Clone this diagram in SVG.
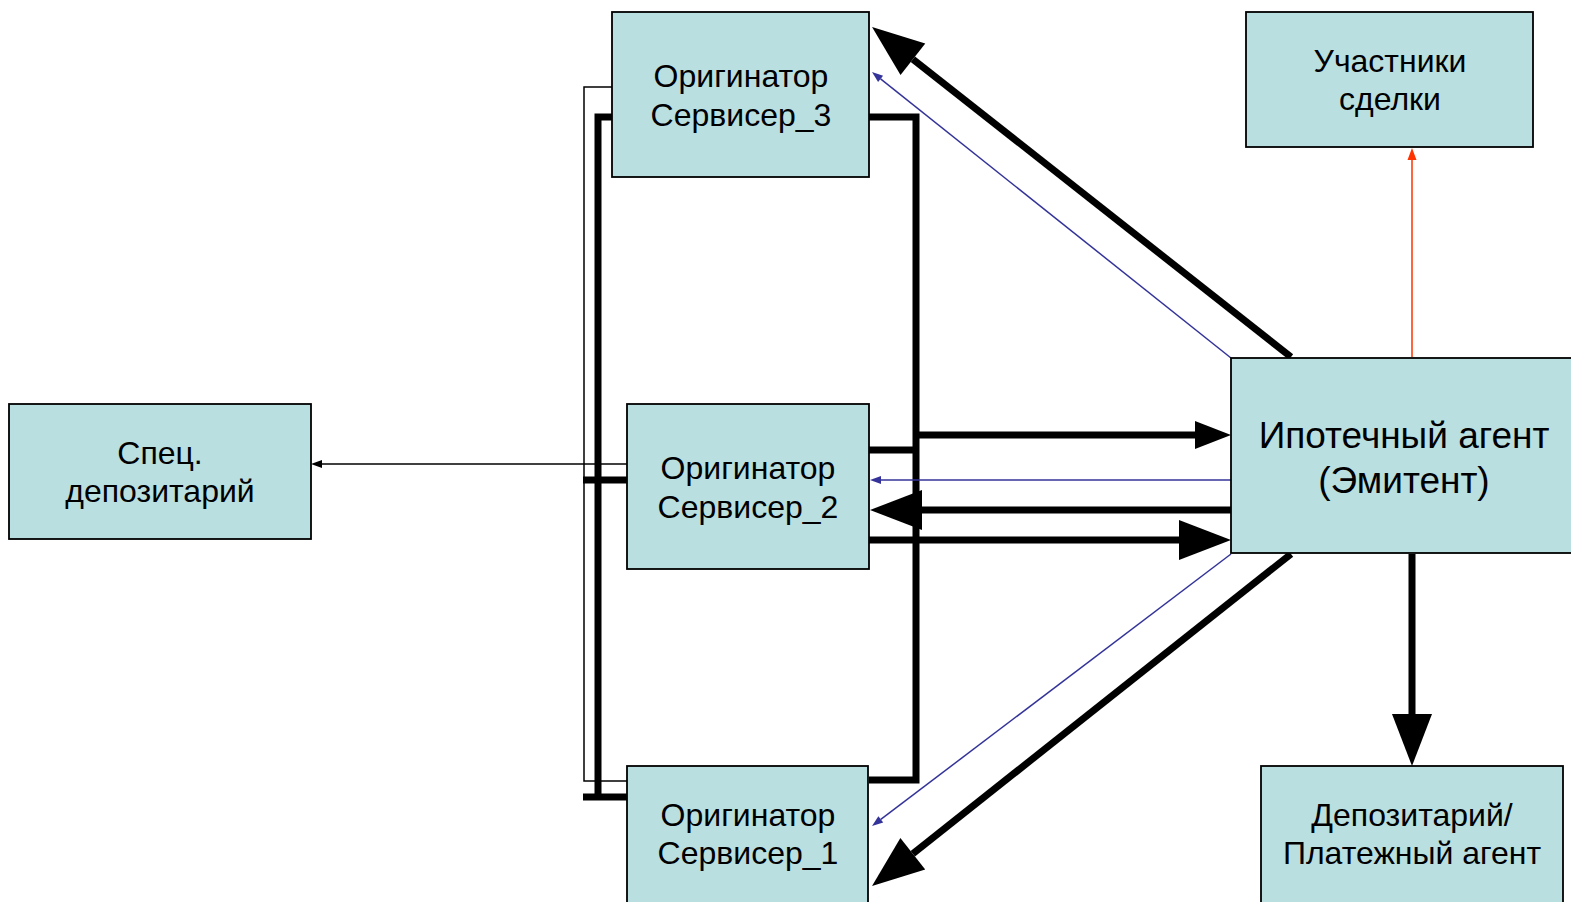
<svg xmlns="http://www.w3.org/2000/svg" width="1571" height="902" viewBox="0 0 1571 902">
<style>
.box{fill:#b9dfe1;stroke:#000;stroke-width:1.8}
.t{font-family:"Liberation Sans",Arial,sans-serif;font-size:32px;fill:#000;text-anchor:middle}
.tb{font-size:37px}
.thick{stroke:#000;stroke-width:7;fill:none}
.thin{stroke:#000;stroke-width:1.5;fill:none}
.blue{stroke:#333399;stroke-width:1.5;fill:none}
.red{stroke:#ff3300;stroke-width:1.5;fill:none}
</style>
<defs>
<marker id="big" markerUnits="userSpaceOnUse" markerWidth="54" markerHeight="44" viewBox="0 -22 54 44" refX="0" refY="0" orient="auto" overflow="visible"><path d="M0,-20 L52,0 L0,20 z" fill="#000"/></marker>
<marker id="med" markerUnits="userSpaceOnUse" markerWidth="38" markerHeight="32" viewBox="0 -16 38 32" refX="0" refY="0" orient="auto" overflow="visible"><path d="M0,-14 L36,0 L0,14 z" fill="#000"/></marker>
<marker id="sb" markerUnits="userSpaceOnUse" markerWidth="12" markerHeight="10" viewBox="0 -5 12 10" refX="0" refY="0" orient="auto" overflow="visible"><path d="M0,-4 L11,0 L0,4 z" fill="#333399"/></marker>
<marker id="sk" markerUnits="userSpaceOnUse" markerWidth="12" markerHeight="10" viewBox="0 -5 12 10" refX="0" refY="0" orient="auto" overflow="visible"><path d="M0,-4 L11,0 L0,4 z" fill="#000"/></marker>
<marker id="sr" markerUnits="userSpaceOnUse" markerWidth="12" markerHeight="10" viewBox="0 -5 12 10" refX="0" refY="0" orient="auto" overflow="visible"><path d="M0,-4.5 L12,0 L0,4.5 z" fill="#ff3300"/></marker>
</defs>
<rect width="1571" height="902" fill="#fff"/>
<g id="connectors">
<polyline class="thin" points="612,87 584,87 584,781 627,781"/>
<polyline class="thick" points="612,117 598,117 598,797"/>
<line class="thick" x1="583" y1="480" x2="627" y2="480"/>
<line class="thick" x1="583" y1="797" x2="627" y2="797"/>
<polyline class="thick" points="869,117 916,117 916,780 869,780"/>
<line class="thick" x1="869" y1="450" x2="916" y2="450"/>
<line class="thin" x1="627" y1="464" x2="322" y2="464" marker-end="url(#sk)"/>
<line class="thick" x1="1291" y1="357" x2="912.9" y2="59.2" marker-end="url(#big)"/>
<line class="blue" x1="1231" y1="358" x2="880.6" y2="78.9" marker-end="url(#sb)"/>
<line class="thick" x1="1291" y1="554" x2="912.8" y2="853.7" marker-end="url(#big)"/>
<line class="blue" x1="1231" y1="554" x2="880.8" y2="819.4" marker-end="url(#sb)"/>
<line class="thick" x1="916" y1="435" x2="1195" y2="435" marker-end="url(#med)"/>
<line class="blue" x1="1231" y1="480" x2="881" y2="480" marker-end="url(#sb)"/>
<line class="thick" x1="1231" y1="510" x2="922" y2="510" marker-end="url(#big)"/>
<line class="thick" x1="869" y1="540" x2="1179" y2="540" marker-end="url(#big)"/>
<line class="thick" x1="1412" y1="554" x2="1412" y2="714" marker-end="url(#big)"/>
<line class="red" x1="1412" y1="357" x2="1412" y2="160" marker-end="url(#sr)"/>
</g>
<g id="os3"><rect class="box" x="612" y="12" width="257" height="165"/><text class="t" x="741" y="87">Оригинатор</text><text class="t" x="741" y="126">Сервисер_3</text></g>
<g id="participants"><rect class="box" x="1246" y="12" width="287" height="135"/><text class="t" x="1390" y="72">Участники</text><text class="t" x="1390" y="110">сделки</text></g>
<g id="specdep"><rect class="box" x="9" y="404" width="302" height="135"/><text class="t" x="160" y="464">Спец.</text><text class="t" x="160" y="502">депозитарий</text></g>
<g id="os2"><rect class="box" x="627" y="404" width="242" height="165"/><text class="t" x="748" y="479">Оригинатор</text><text class="t" x="748" y="518">Сервисер_2</text></g>
<g id="agent"><rect class="box" x="1231" y="358" width="345" height="195"/><text class="t tb" x="1404" y="448">Ипотечный агент</text><text class="t tb" x="1404" y="493">(Эмитент)</text></g>
<g id="os1"><rect class="box" x="627" y="766" width="241" height="145"/><text class="t" x="748" y="826">Оригинатор</text><text class="t" x="748" y="864">Сервисер_1</text></g>
<g id="paydep"><rect class="box" x="1261" y="766" width="302" height="145"/><text class="t" x="1412" y="826">Депозитарий/</text><text class="t" x="1412" y="864">Платежный агент</text></g>
</svg>
